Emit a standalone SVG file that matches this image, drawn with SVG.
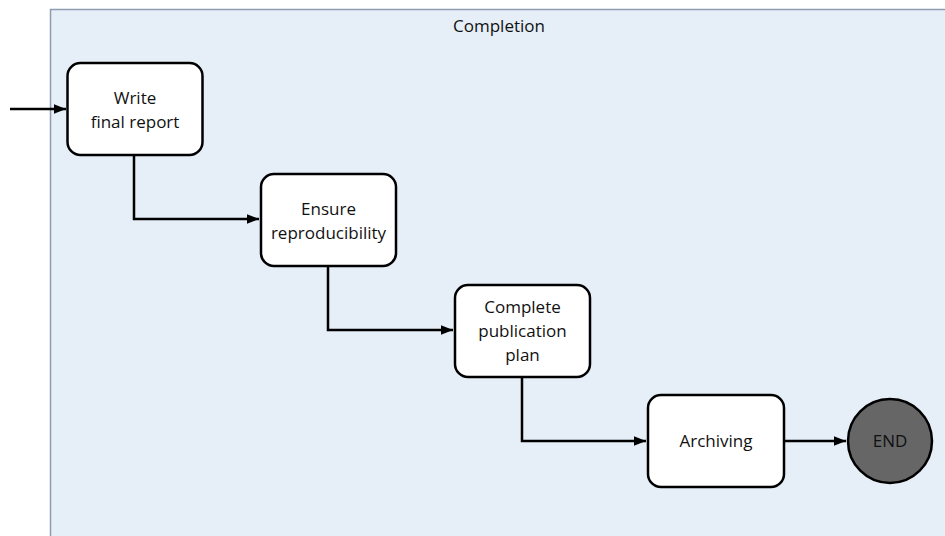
<svg xmlns="http://www.w3.org/2000/svg" width="945" height="536" viewBox="0 0 945 536">
<style>
.node rect{fill:#ffffff;stroke:#000000;stroke-width:2.5}
.lbl{font-family:"Open Sans","Liberation Sans",sans-serif;font-size:17px;fill:#111111;text-anchor:middle}
.conn{fill:none;stroke:#000000;stroke-width:2.5}
</style>
<defs>
<marker id="arr" viewBox="0 0 10 10" refX="10" refY="5" markerWidth="5" markerHeight="5" orient="auto" markerUnits="strokeWidth">
<path d="M0,1 L10,5 L0,9 z" fill="#000000"/>
</marker>
</defs>
<g id="lane">
<rect x="50.5" y="9.5" width="900" height="540" fill="#e6eef8" stroke="#8f9bb0" stroke-width="1.5"/>
<text class="lbl" x="499" y="32">Completion</text>
</g>
<g id="connectors">
<path class="conn" d="M10,109 L66,109" marker-end="url(#arr)"/>
<path class="conn" d="M134,155 L134,219 L259,219" marker-end="url(#arr)"/>
<path class="conn" d="M328,266 L328,330 L453,330" marker-end="url(#arr)"/>
<path class="conn" d="M522,377 L522,441 L646,441" marker-end="url(#arr)"/>
<path class="conn" d="M784,441 L846,441" marker-end="url(#arr)"/>
</g>
<g id="n1" class="node">
<rect x="67.5" y="63" width="135" height="92" rx="13"/>
<text class="lbl" x="135" y="104">Write</text>
<text class="lbl" x="135" y="128">final report</text>
</g>
<g id="n2" class="node">
<rect x="261" y="174" width="135" height="92" rx="13"/>
<text class="lbl" x="328.5" y="215">Ensure</text>
<text class="lbl" x="328.5" y="239">reproducibility</text>
</g>
<g id="n3" class="node">
<rect x="455" y="285" width="135" height="92" rx="13"/>
<text class="lbl" x="522.5" y="313">Complete</text>
<text class="lbl" x="522.5" y="337">publication</text>
<text class="lbl" x="522.5" y="361">plan</text>
</g>
<g id="n4" class="node">
<rect x="648" y="395" width="136" height="92" rx="13"/>
<text class="lbl" x="716" y="447">Archiving</text>
</g>
<g id="end">
<circle cx="890" cy="441" r="42" fill="#666666" stroke="#000000" stroke-width="2.5"/>
<text class="lbl" x="890" y="447">END</text>
</g>
</svg>
